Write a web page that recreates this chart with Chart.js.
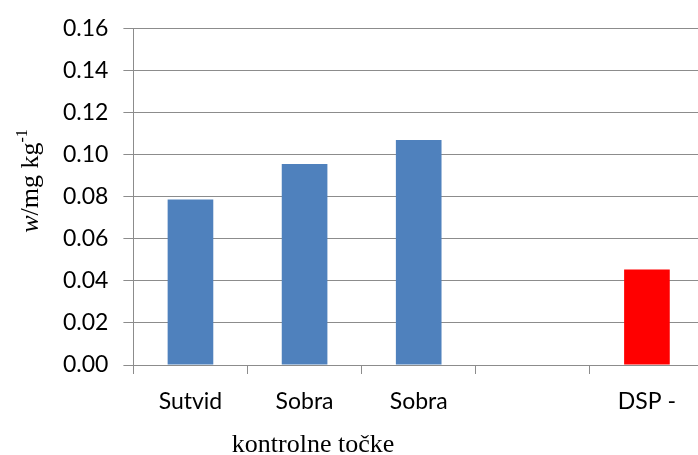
<!DOCTYPE html>
<html>
<head>
<meta charset="utf-8">
<script src="https://cdn.jsdelivr.net/npm/chart.js@4/dist/chart.umd.min.js"></script>
<style>
html,body{margin:0;padding:0;background:#fff;overflow:hidden;width:698px;height:455px;}
canvas{display:block;}
</style>
</head>
<body>
<canvas id="c" width="710" height="455"></canvas>
<script>
const categories = ['Sutvid', 'Sobra', 'Sobra', '', 'DSP -'];
const values = [0.0788, 0.0956, 0.1071, null, 0.0455];
const barColors = ['#4F81BD', '#4F81BD', '#4F81BD', '#4F81BD', '#FF0000'];
const yTicks = [0, 0.02, 0.04, 0.06, 0.08, 0.10, 0.12, 0.14, 0.16];
const xTitle = 'kontrolne točke';

const gridColor = '#8C8C8C';

const axisTitles = {
  id: 'axisTitles',
  afterDraw(chart) {
    const ctx = chart.ctx;
    const ca = chart.chartArea;
    ctx.save();
    ctx.fillStyle = '#000';
    // x title
    ctx.font = '26px "Liberation Serif", "Times New Roman", serif';
    ctx.textAlign = 'center';
    ctx.textBaseline = 'alphabetic';
    ctx.fillText(xTitle, 313, 452);
    // y title (rotated)
    const f1 = 'italic 26px "Liberation Serif", serif';
    const f2 = '26px "Liberation Serif", serif';
    const f3 = '16px "Liberation Serif", serif';
    const p1 = 'w', p2 = '/mg kg', p3 = '-1';
    ctx.font = f1; const w1 = ctx.measureText(p1).width;
    ctx.font = f2; const w2 = ctx.measureText(p2).width;
    ctx.font = f3; const w3 = ctx.measureText(p3).width;
    const total = w1 + w2 + w3;
    ctx.translate(38, 181);
    ctx.rotate(-Math.PI / 2);
    ctx.textAlign = 'left';
    let x = -total / 2;
    ctx.font = f1; ctx.fillText(p1, x, 0); x += w1;
    ctx.font = f2; ctx.fillText(p2, x, 0); x += w2;
    ctx.font = f3; ctx.fillText(p3, x, -11);
    ctx.restore();
  }
};

new Chart(document.getElementById('c'), {
  type: 'bar',
  data: {
    labels: categories,
    datasets: [{
      data: values,
      backgroundColor: barColors,
      borderWidth: 0,
      barPercentage: 0.4,
      categoryPercentage: 1.0
    }]
  },
  options: {
    responsive: false,
    animation: false,
    devicePixelRatio: 1,
    layout: { padding: { top: 27, right: 6, left: 0, bottom: 0 } },
    plugins: { legend: { display: false }, tooltip: { enabled: false } },
    scales: {
      x: {
        afterFit(scale) { scale.height = 90; },
        grid: {
          offset: true,
          drawOnChartArea: false,
          drawTicks: true,
          tickLength: 9,
          color: gridColor
        },
        border: { color: gridColor, width: 1 },
        ticks: {
          color: '#000',
          font: { family: 'Lato', size: 23 },
          padding: 14,
          maxRotation: 0,
          autoSkip: false
        }
      },
      y: {
        min: 0,
        max: 0.16,
        afterFit(scale) { scale.width = 133.4; },
        afterBuildTicks(scale) { scale.ticks = yTicks.map(v => ({ value: v })); },
        grid: {
          color: gridColor,
          tickLength: 10,
          lineWidth: 1
        },
        border: { color: gridColor, width: 1 },
        ticks: {
          color: '#000',
          font: { family: 'Lato', size: 23 },
          padding: 15,
          callback: v => Number(v).toFixed(2)
        }
      }
    }
  },
  plugins: [axisTitles]
});
</script>
</body>
</html>
